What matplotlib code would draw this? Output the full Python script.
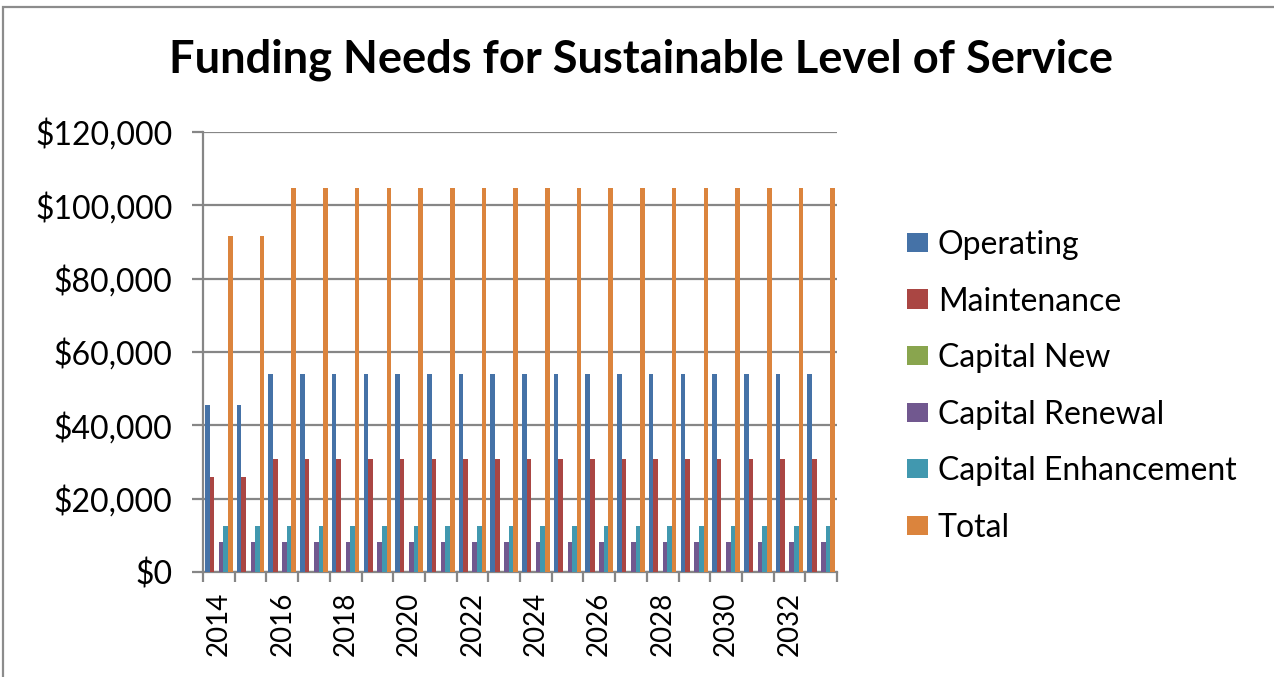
import numpy as np
import matplotlib.pyplot as plt
from matplotlib.patches import Rectangle
from matplotlib.ticker import FuncFormatter, FixedLocator

years = list(range(2014, 2034))
series = ['Operating', 'Maintenance', 'Capital New', 'Capital Renewal',
          'Capital Enhancement', 'Total']
operating = [45500, 45500] + [54000] * 18
maintenance = [26000, 26000] + [30700] * 18
capital_new = [0] * 20
capital_renewal = [8300] * 20
capital_enhancement = [12500] * 20
total = [91700, 91700] + [104800] * 18
colors = ['#4572A7', '#AA4643', '#89A54E', '#71588F', '#4198AF', '#DB843D']

values = [operating, maintenance, capital_new, capital_renewal,
          capital_enhancement, total]

plt.rcParams['font.family'] = ['Lato', 'DejaVu Sans']

fig = plt.figure(figsize=(12.74, 6.77), dpi=100)
ax = fig.add_axes([203 / 1274, 105 / 677, 634 / 1274, 440 / 677])

# outer chart frame (only left/top edges visible)
fig.patches.append(Rectangle((3 / 1274, -0.1), 1.2, (670 / 677) + 0.1,
                             transform=fig.transFigure, fill=False,
                             edgecolor='#8c8c8c', linewidth=1.6))

x = np.arange(len(years))
group = 1 / 1.15
bw = group / len(series)
for i, (name, vals, c) in enumerate(zip(series, values, colors)):
    ax.bar(x + 0.5 - group / 2 + bw * (i + 0.5), vals, width=bw, color=c,
           label=name, zorder=3)

ax.set_xlim(0, len(years))
ax.set_ylim(0, 120000)
ax.set_yticks(np.arange(0, 120001, 20000))
ax.yaxis.set_major_formatter(FuncFormatter(lambda v, p: f'${v:,.0f}'))
ax.grid(axis='y', color='#868686', linewidth=1.6, zorder=0)

ax.xaxis.set_major_locator(FixedLocator(np.arange(0, len(years) + 1)))
ax.set_xticklabels([])
ax.xaxis.set_minor_locator(FixedLocator(x[::2] + 0.5))
ax.xaxis.set_minor_formatter(FuncFormatter(lambda v, p: str(years[int(v)])))
ax.tick_params(axis='x', which='minor', length=0, pad=14, labelsize=20,
               labelrotation=90)
ax.tick_params(axis='x', which='major', length=7.5, width=1.6, color='#868686')
ax.tick_params(axis='y', length=8, width=1.6, color='#868686', pad=14,
               labelsize=23)

for side in ['top', 'right']:
    ax.spines[side].set_visible(False)
for side in ['left', 'bottom']:
    ax.spines[side].set_color('#868686')
    ax.spines[side].set_linewidth(1.6)

fig.text(0.503, 0.912, 'Funding Needs for Sustainable Level of Service',
         ha='center', va='center', fontsize=32.6, fontweight='bold')

ax.legend(loc='upper left', bbox_to_anchor=(907 / 1274, 1 - 230 / 677),
          bbox_transform=fig.transFigure, frameon=False, fontsize=23,
          handlelength=0.66, handleheight=0.56, handletextpad=0.3,
          labelspacing=0.83, borderaxespad=0, borderpad=0)

fig.savefig('out.png', dpi=100)
